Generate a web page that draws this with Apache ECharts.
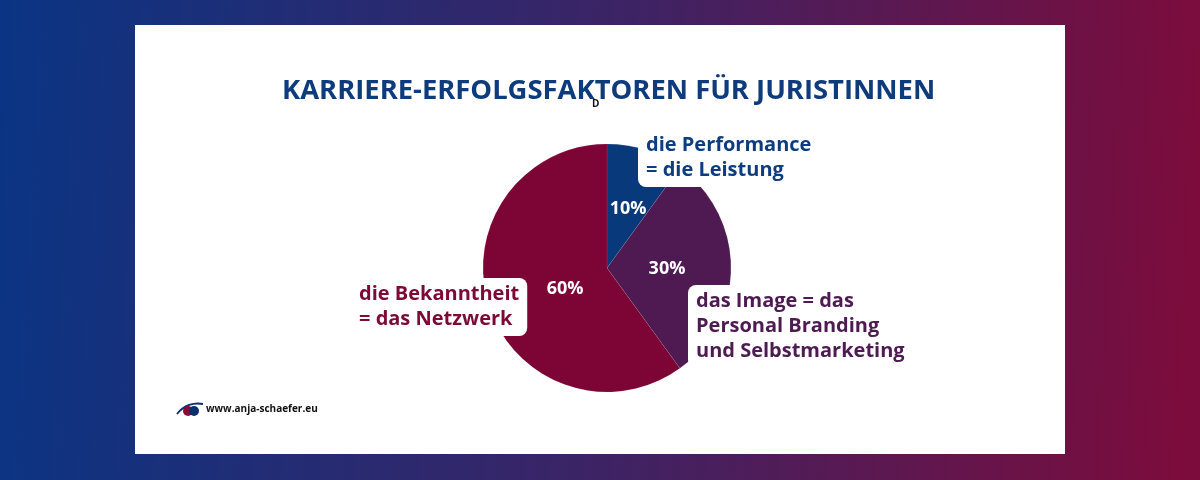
<!DOCTYPE html>
<html>
<head>
<meta charset="utf-8">
<script src="https://cdn.jsdelivr.net/npm/echarts@6/dist/echarts.min.js"></script>
<style>
  html, body { margin: 0; padding: 0; }
  #chart { width: 1200px; height: 480px; }
</style>
</head>
<body>
<div id="chart"></div>
<script>
const titleText = 'KARRIERE-ERFOLGSFAKTOREN FÜR JURISTINNEN';
const sliceNames = ['die Performance\n= die Leistung', 'das Image = das\nPersonal Branding\nund Selbstmarketing', 'die Bekanntheit\n= das Netzwerk'];
const sliceValues = [10, 30, 60];
const sliceColors = ['#08397a', '#4f1a52', '#7c0535'];
const labelColors = ['#0d3d7e', '#4d1a52', '#7c0a35'];

const chart = echarts.init(document.getElementById('chart'));

const pieData = sliceNames.map((name, i) => ({
  name,
  value: sliceValues[i],
  itemStyle: { color: sliceColors[i] },
}));

// where the outer text boxes sit
const outerPos = [
  { x: 638, y: 129 },
  { x: 688, y: 285 },
  { x: 351, y: 278 },
];
// nudges for the percent labels inside
const innerNudge = [[1, 3], [-5, 1], [20, 1]];

const option = {
  animation: false,
  graphic: [
    {
      type: 'rect',
      z: -10,
      shape: { x: 0, y: 0, width: 1200, height: 480 },
      style: {
        fill: new echarts.graphic.LinearGradient(0, 0, 1, 0.15, [
          { offset: 0, color: '#0a3584' },
          { offset: 0.5, color: '#3a2466' },
          { offset: 1, color: '#7b0c3c' },
        ]),
      },
    },
    {
      type: 'rect',
      z: -9,
      shape: { x: 135, y: 25, width: 930, height: 429 },
      style: { fill: '#ffffff' },
    },
    {
      type: 'text',
      left: 592,
      top: 99,
      style: { text: 'D', fontSize: 10, fontWeight: 'bold', fill: '#111', fontFamily: 'Open Sans' },
    },
    // little eye logo
    {
      type: 'bezierCurve',
      shape: { x1: 177, y1: 414, x2: 203, y2: 404, cpx1: 184, cpy1: 405, cpx2: 194, cpy2: 402 },
      style: { stroke: '#0b2f6b', lineWidth: 2, fill: null },
    },
    {
      type: 'circle',
      shape: { cx: 188, cy: 411, r: 5 },
      style: { fill: '#8a0b36' },
    },
    {
      type: 'circle',
      shape: { cx: 194, cy: 411, r: 5 },
      style: { fill: '#0b2f6b' },
    },
    {
      type: 'text',
      left: 206,
      top: 404,
      style: { text: 'www.anja-schaefer.eu', fontSize: 10, fontWeight: 'bold', fill: '#111', fontFamily: 'Open Sans' },
    },
  ],
  title: {
    text: titleText,
    left: 277,
    top: 73,
    textStyle: {
      color: '#0d3b7c',
      fontSize: 27.4,
      fontWeight: 'bold',
      fontFamily: 'Open Sans',
    },
  },
  series: [
    {
      type: 'pie',
      center: [607, 268],
      radius: 124,
      startAngle: 90,
      clockwise: true,
      silent: true,
      itemStyle: { borderColor: 'rgba(255,255,255,0.15)', borderWidth: 0.5 },
      label: {
        show: true,
        position: 'inside',
        formatter: '{c}%',
        color: '#ffffff',
        fontSize: 18,
        fontWeight: 'bold',
        fontFamily: 'Open Sans',
      },
      labelLayout: (p) => ({ dx: innerNudge[p.dataIndex][0], dy: innerNudge[p.dataIndex][1] }),
      data: pieData,
    },
    {
      type: 'pie',
      center: [607, 268],
      radius: 124,
      startAngle: 90,
      clockwise: true,
      silent: true,
      itemStyle: { color: 'transparent' },
      labelLine: { show: false },
      label: {
        show: true,
        position: 'outside',
        formatter: '{b}',
        fontSize: 20,
        lineHeight: 25,
        fontWeight: 'bold',
        fontFamily: 'Open Sans',
        backgroundColor: '#ffffff',
        borderRadius: 8,
        padding: [4, 8, 4, 8],
        color: (p) => labelColors[p.dataIndex],
      },
      labelLayout: (p) => ({
        x: outerPos[p.dataIndex].x,
        y: outerPos[p.dataIndex].y,
        align: 'left',
        verticalAlign: 'top',
      }),
      data: sliceNames.map((name, i) => ({
        name,
        value: sliceValues[i],
        label: { color: labelColors[i], align: 'left' },
      })),
    },
  ],
};

chart.setOption(option);
</script>
</body>
</html>
